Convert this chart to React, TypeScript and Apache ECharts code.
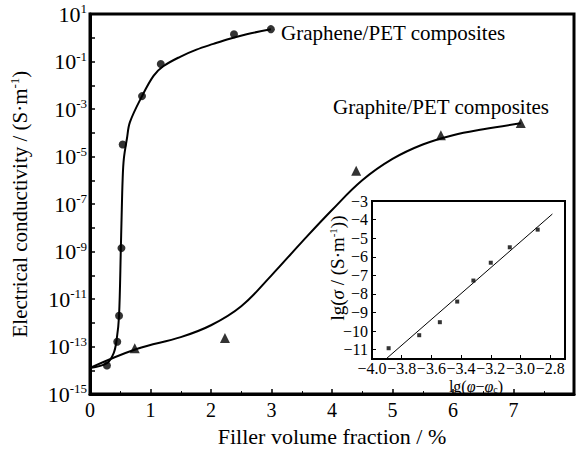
import { useEffect, useRef } from 'react';
import * as echarts from 'echarts';

// Main chart: filler volume fraction (%) vs electrical conductivity (S/m)
const grapheneX = [0.28, 0.45, 0.48, 0.52, 0.54, 0.86, 1.17, 2.38, 2.99];
const grapheneY = [1.6e-14, 1.6e-13, 2.0e-12, 1.4e-9, 3.2e-5, 3.5e-3, 7.9e-2, 1.4, 2.3];
const graphiteX = [0.74, 2.23, 4.4, 5.8, 7.12];
const graphiteY = [8.5e-14, 2.3e-13, 2.5e-6, 7.9e-5, 2.6e-4];

// Fitted curves
const grapheneFitX = [0, 0.28, 0.39, 0.44, 0.48, 0.51, 0.52, 0.54, 0.56, 0.61, 0.66, 0.86, 1.05, 1.21, 1.49, 1.76, 2.04, 2.31, 2.59, 2.99];
const grapheneFitY = [1.26e-14, 2.0e-14, 5.2e-14, 1.9e-13, 1.95e-12, 1.4e-9, 1.6e-8, 1.2e-6, 8.3e-6, 5.6e-5, 2.8e-4, 3.5e-3, 2.5e-2, 6.3e-2, 0.158, 0.316, 0.55, 0.91, 1.41, 2.29];
const graphiteFitX = [0, 0.77, 1.5, 2.0, 2.5, 3.0, 3.5, 4.0, 4.5, 5.0, 5.5, 6.0, 6.5, 7.12];
const graphiteFitY = [1.26e-14, 7.9e-14, 2.5e-13, 7.9e-13, 5.0e-12, 1.0e-10, 2.5e-9, 5.6e-8, 1.0e-6, 7.9e-6, 3.2e-5, 7.9e-5, 1.4e-4, 2.5e-4];

// Inset: lg(phi - phi_c) vs lg(sigma)
const insetX = [-3.888, -3.682, -3.543, -3.426, -3.317, -3.2, -3.072, -2.884];
const insetY = [-10.92, -10.22, -9.52, -8.41, -7.28, -6.32, -5.49, -4.54];
const insetFitX = [-3.906, -2.785];
const insetFitY = [-11.5, -3.7];
const insetYTicks = [-11, -10, -9, -8, -7, -6, -5, -4, -3];

const FONT = '"Liberation Serif", "Times New Roman", serif';

const zip = (xs: number[], ys: number[]) => xs.map((x, i) => [x, ys[i]]);
const minus = (s: string) => s.replace('-', '\u2212');

export default function App() {
  const ref = useRef<HTMLDivElement>(null);
  useEffect(() => {
    if (!ref.current) return;
    const chart = echarts.init(ref.current, undefined, { renderer: 'svg' });
    const black = '#000';
    const option: any = {
      animation: false,
      backgroundColor: '#fff',
      textStyle: { fontFamily: FONT, color: black },
      grid: [
        { left: 90, top: 14, width: 484, height: 384, show: true, borderColor: black, borderWidth: 3, backgroundColor: 'transparent' },
        { left: 372, top: 201, width: 193, height: 158, show: true, borderColor: black, borderWidth: 2, backgroundColor: '#fff' },
      ],
      xAxis: [
        {
          gridIndex: 0, type: 'value', min: 0, max: 8, interval: 1,
          axisLine: { lineStyle: { color: black, width: 3 } },
          axisTick: { inside: true, length: 5, lineStyle: { color: black, width: 1.5 } },
          minorTick: { show: true, splitNumber: 2, length: 3, lineStyle: { color: black, width: 1 } },
          splitLine: { show: false },
          axisLabel: { color: black, fontFamily: FONT, fontSize: 20, margin: 6, formatter: (v: number) => (v === 8 ? '' : String(v)) },
          name: 'Filler volume fraction / %', nameLocation: 'middle', nameGap: 29,
          nameTextStyle: { color: black, fontFamily: FONT, fontSize: 22 },
        },
        {
          gridIndex: 1, type: 'value', min: -4, max: -2.7, interval: 0.2,
          axisLine: { lineStyle: { color: black, width: 2 } },
          axisTick: { inside: true, length: 4, lineStyle: { color: black, width: 1 } },
          splitLine: { show: false },
          axisLabel: { color: black, fontFamily: FONT, fontSize: 16, lineHeight: 12, margin: 3, showMaxLabel: false, formatter: (v: number) => minus(v.toFixed(1)) },
        },
      ],
      yAxis: [
        {
          gridIndex: 0, type: 'log', logBase: 10, min: 1e-15, max: 10, interval: 1,
          axisLine: { lineStyle: { color: black, width: 3 } },
          axisTick: { inside: true, length: 5, lineStyle: { color: black, width: 1.5 } },
          minorTick: { show: true, splitNumber: 3, length: 2, lineStyle: { color: black, width: 1 } },
          splitLine: { show: false },
          axisLabel: {
            margin: 3,
            formatter: (v: number) => {
              const e = Math.round(Math.log10(v));
              if ((e + 15) % 2 !== 0) return '';
              return `{b|10}{s|${e}}`;
            },
            rich: {
              b: { fontFamily: FONT, fontSize: 22, color: black, lineHeight: 24 },
              s: { fontFamily: FONT, fontSize: 13, color: black, verticalAlign: 'top', lineHeight: 12 },
            },
          },
          name: '{n|Electrical conductivity / (S·m}{s|-1}{n|)}', nameLocation: 'middle', nameGap: 58,
          nameTextStyle: {
            rich: {
              n: { fontFamily: FONT, fontSize: 21, color: black, lineHeight: 24 },
              s: { fontFamily: FONT, fontSize: 13, color: black, verticalAlign: 'top', lineHeight: 12 },
            },
          },
        },
        {
          gridIndex: 1, type: 'value', min: -11.5, max: -3, interval: 1,
          axisLine: { lineStyle: { color: black, width: 2 } },
          axisTick: { inside: true, length: 4, lineStyle: { color: black, width: 1 }, customValues: insetYTicks },
          splitLine: { show: false },
          axisLabel: { color: black, fontFamily: FONT, fontSize: 16, margin: 4, customValues: insetYTicks, formatter: (v: number) => minus(String(v)) },
        },
      ],
      series: [
        {
          type: 'line', xAxisIndex: 0, yAxisIndex: 0, data: zip(grapheneFitX, grapheneFitY),
          showSymbol: false, smooth: 0.35, lineStyle: { color: black, width: 2 },
        },
        {
          type: 'line', xAxisIndex: 0, yAxisIndex: 0, data: zip(graphiteFitX, graphiteFitY),
          showSymbol: false, smooth: 0.4, lineStyle: { color: black, width: 2 },
        },
        {
          type: 'scatter', xAxisIndex: 0, yAxisIndex: 0, data: zip(grapheneX, grapheneY),
          symbol: 'circle', symbolSize: 8, itemStyle: { color: black },
        },
        {
          type: 'scatter', xAxisIndex: 0, yAxisIndex: 0, data: zip(graphiteX, graphiteY),
          symbol: 'triangle', symbolSize: 10, itemStyle: { color: black },
        },
        {
          type: 'line', xAxisIndex: 1, yAxisIndex: 1, data: zip(insetFitX, insetFitY),
          showSymbol: false, lineStyle: { color: black, width: 1 }, z: 3,
        },
        {
          type: 'scatter', xAxisIndex: 1, yAxisIndex: 1, data: zip(insetX, insetY),
          symbol: 'rect', symbolSize: 4, itemStyle: { color: black }, z: 4,
        },
      ],
      graphic: [
        { type: 'text', left: 281, top: 22, style: { text: 'Graphene/PET composites', fontFamily: FONT, fontSize: 21, fill: black } },
        { type: 'text', left: 333, top: 96, style: { text: 'Graphite/PET composites', fontFamily: FONT, fontSize: 21, fill: black } },
        {
          type: 'text', x: 476, y: 386, z: 10,
          style: {
            text: '{t|lg(}{i|φ}{t|\u2212}{i|φ}{sub|c}{t|)}', align: 'center', verticalAlign: 'middle',
            rich: {
              t: { fontFamily: FONT, fontSize: 16, fill: black, lineHeight: 16 },
              i: { fontFamily: FONT, fontSize: 16, fontStyle: 'italic', fill: black, lineHeight: 16 },
              sub: { fontFamily: FONT, fontSize: 10, fill: black, verticalAlign: 'bottom', lineHeight: 10 },
            },
          },
        },
        {
          type: 'text', x: 337, y: 268, rotation: Math.PI / 2, z: 10,
          style: {
            text: '{t|lg(}{i|σ}{t| / (S·m}{s|-1}{t|))}', align: 'center', verticalAlign: 'middle',
            rich: {
              t: { fontFamily: FONT, fontSize: 19, fill: black, lineHeight: 20 },
              i: { fontFamily: FONT, fontSize: 19, fontStyle: 'italic', fill: black, lineHeight: 20 },
              s: { fontFamily: FONT, fontSize: 11, fill: black, verticalAlign: 'top', lineHeight: 11 },
            },
          },
        },
      ],
    };
    chart.setOption(option);
    return () => chart.dispose();
  }, []);
  return <div ref={ref} style={{ position: 'fixed', left: 0, top: 0, width: 577, height: 452 }} />;
}
